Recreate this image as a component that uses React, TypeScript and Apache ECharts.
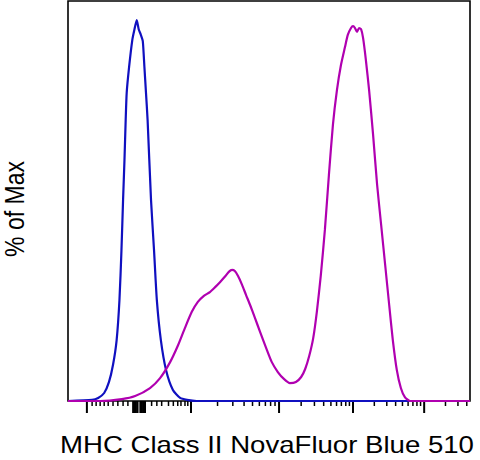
import React, { useEffect, useRef } from "react";
import * as echarts from "echarts";

// x in display channels (0-1000, biexponential scale), y in % of Max
const blueSeries: [number, number][] = [
  [0, 0], [60, 0.3], [75, 0.8], [90, 2.1], [102, 5.0], [112, 9.5], [121, 16.0],
  [128, 26.5], [133, 39.6], [137, 52.8], [140.5, 63.3], [143.5, 73.8], [146, 80.9],
  [152, 87.7], [160, 94.8], [165, 97.4], [171, 100], [176, 97.5], [181, 96.2],
  [186, 94.5], [190, 87.8], [194, 80.9], [198, 73.8], [206.5, 52.8], [214, 39.6],
  [221, 26.5], [231, 16.0], [244, 8.1], [261, 2.9], [279, 0.8], [296, 0.3],
  [320, 0], [1000, 0],
];

const magentaSeries: [number, number][] = [
  [0, 0], [80, 0], [134, 0.5], [167, 1.3], [204, 3.4], [229, 6.0], [254, 10.2],
  [274, 14.7], [291, 19.2], [308, 23.4], [323, 26.0], [338, 27.6], [353, 28.6],
  [366, 29.9], [378, 31.2], [390, 32.6], [400, 33.9], [408, 34.4], [415, 34.1],
  [423, 32.8], [433, 30.5], [443, 27.8], [453, 25.2], [465, 21.8], [478, 18.1],
  [493, 13.9], [507, 10.2], [522, 7.6], [537, 5.8], [552, 4.7], [567, 5.0],
  [580, 6.3], [590, 8.4], [600, 11.8], [610, 16.5], [619, 23.4], [629, 33.1],
  [639, 44.9], [649, 59.3], [659, 72.5], [669, 81.6], [679, 88.2], [689, 92.9],
  [696, 96.1], [704, 97.9], [709, 98.4], [714, 97.9], [719, 96.9], [724, 97.9],
  [729, 97.6], [734, 95.3], [741, 89.5], [749, 81.6], [759, 69.8], [769, 56.7],
  [779, 46.2], [789, 35.7], [799, 25.2], [808, 16.0], [818, 8.1], [828, 3.4],
  [838, 1.0], [851, 0], [1000, 0],
];

// tick positions in display channels
const majorTicks: number[] = [
  47, 162, 165, 169, 173, 180, 184, 188, 191.5, 306, 525, 709, 886,
];
const minorTicks: number[] = [
  60, 70, 80, 90, 100, 112, 124, 137, 149,
  208, 221, 233, 250, 262, 273, 281, 291, 298,
  372, 410, 438, 459, 476, 491, 504, 515,
  580, 613, 636, 654, 668, 680, 691, 700,
  762, 793, 815, 832, 846, 858, 868, 877,
  939, 970, 992,
];

const xLabel = "MHC Class II NovaFluor Blue 510";
const yLabel = "% of Max";

const FONT = "'Liberation Sans', Arial, sans-serif";

function tickSeries(ticks: number[], len: number, width: number) {
  return {
    type: "custom",
    clip: false,
    silent: true,
    data: ticks.map((t) => [t]),
    renderItem: (_params: any, api: any) => {
      const p = api.coord([api.value(0), 0]);
      return {
        type: "line",
        shape: { x1: p[0], y1: p[1], x2: p[0], y2: p[1] + len },
        style: { stroke: "#000", lineWidth: width },
      };
    },
    z: 1,
  };
}

export default function App() {
  const ref = useRef<HTMLDivElement>(null);
  useEffect(() => {
    if (!ref.current) return;
    document.body.style.margin = "0";
    const chart = echarts.init(ref.current, undefined, { renderer: "svg" });
    chart.setOption({
      animation: false,
      backgroundColor: "#fff",
      grid: {
        left: 68,
        top: 1,
        right: 10,
        bottom: 59,
        show: true,
        borderColor: "#000",
        borderWidth: 1.6,
        backgroundColor: "transparent",
      },
      xAxis: {
        type: "value",
        min: 0,
        max: 1000,
        axisLine: { show: false },
        axisTick: { show: false },
        axisLabel: { show: false },
        splitLine: { show: false },
      },
      yAxis: {
        type: "value",
        min: 0,
        max: 105,
        axisLine: { show: false },
        axisTick: { show: false },
        axisLabel: { show: false },
        splitLine: { show: false },
      },
      series: [
        tickSeries(majorTicks, 12, 2),
        tickSeries(minorTicks, 5, 1.5),
        {
          type: "line",
          data: blueSeries,
          showSymbol: false,
          smooth: 0.2,
          lineStyle: { color: "#1010c0", width: 2.2 },
          z: 3,
        },
        {
          type: "line",
          data: magentaSeries,
          showSymbol: false,
          smooth: 0.2,
          lineStyle: { color: "#b000b0", width: 2.2 },
          z: 4,
        },
      ],
      graphic: [
        {
          type: "text",
          x: 267,
          y: 445,
          scaleX: 1.2,
          style: {
            text: xLabel,
            font: `23px ${FONT}`,
            fill: "#000",
            textAlign: "center",
            textVerticalAlign: "middle",
          },
        },
        {
          type: "text",
          x: 14,
          y: 209,
          rotation: Math.PI / 2,
          scaleY: 1.2,
          style: {
            text: yLabel,
            font: `23px ${FONT}`,
            fill: "#000",
            textAlign: "center",
            textVerticalAlign: "middle",
          },
        },
      ],
    });
    return () => chart.dispose();
  }, []);
  return <div ref={ref} style={{ width: 480, height: 460 }} />;
}
